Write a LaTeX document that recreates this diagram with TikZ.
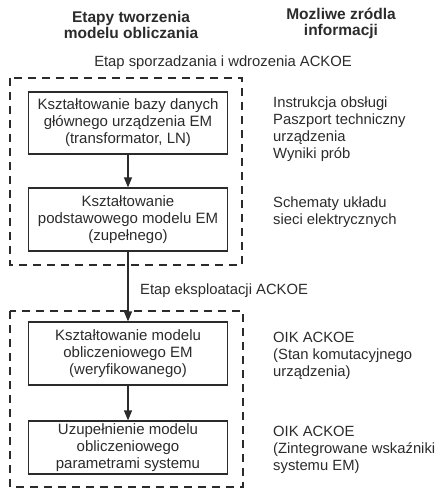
\documentclass[tikz,border=0pt]{standalone}
\usepackage{fontspec}
\setmainfont{Liberation Sans}
\usetikzlibrary{arrows.meta}
\definecolor{ink}{HTML}{2B2B2B}
\begin{document}
\begin{tikzpicture}[x=1pt,y=-1pt,
  every node/.style={text=ink},
  txt/.style={font=\fontsize{14.8}{17}\selectfont, align=center, inner sep=0pt},
  head/.style={font=\fontsize{15.5}{16}\selectfont\bfseries, align=center, inner sep=0pt},
  side/.style={font=\fontsize{14.8}{17}\selectfont, align=left, anchor=north west, inner sep=0pt},
  stepbox/.style={draw=ink, line width=1.2pt, minimum width=199pt, minimum height=62pt,
    font=\fontsize{15}{17}\selectfont, align=center, inner sep=0pt},
  group/.style={draw=ink, line width=1.5pt, dash pattern=on 8pt off 6pt},
  flow/.style={draw=ink, line width=1.2pt, -{Triangle[length=10pt,width=8pt]}}]
\useasboundingbox (0,0) rectangle (437,497);

% column headings
\node[head] (h1) at (131,25) {Etapy tworzenia\\modelu obliczania};
\node[head] (h2) at (341,23) {Mozliwe zródla\\informacji};
\node[txt] (e1) at (223,63) {Etap sporzadzania i wdrozenia ACKOE};

% dashed groups
\draw[group] (10,78) rectangle (242,265);
\draw[group] (10,311) rectangle (243,487);

% steps
\node[stepbox] (b1) at (128,123) {Kształtowanie bazy danych\\głównego urządzenia EM\\(transformator, LN)};
\node[stepbox, minimum height=63pt] (b2) at (128,219.5) {Kształtowanie\\podstawowego modelu EM\\(zupełnego)};
\node[stepbox, minimum height=63pt] (b3) at (128,353.5) {Kształtowanie modelu\\obliczeniowego EM\\(weryfikowanego)};
\node[stepbox, minimum height=53pt] (b4) at (128,447.5) {Uzupełnienie modelu\\obliczeniowego\\parametrami systemu};

\node[txt, anchor=west] (e2) at (140,291) {Etap eksploatacji ACKOE};

% connectors
\draw[flow] (b1) -- (b2);
\draw[flow] (b2) -- (b3);
\draw[flow] (b3) -- (b4);

% information sources
\node[side] (s1) at (273,97) {Instrukcja obsługi\\Paszport techniczny\\urządzenia\\Wyniki prób};
\node[side] (s2) at (273,197) {Schematy układu\\sieci elektrycznych};
\node[side] (s3) at (273,332) {OIK ACKOE\\(Stan komutacyjnego\\urządzenia)};
\node[side] (s4) at (273,426) {OIK ACKOE\\(Zintegrowane wskaźniki\\systemu EM)};
\end{tikzpicture}
\end{document}
